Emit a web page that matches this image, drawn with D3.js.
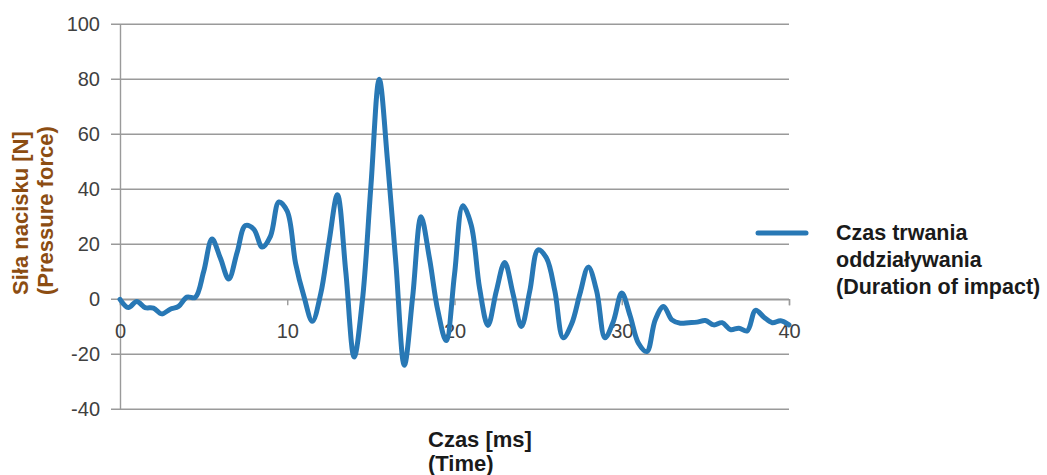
<!DOCTYPE html>
<html>
<head>
<meta charset="utf-8">
<script src="https://cdn.jsdelivr.net/npm/d3@7"></script>
<style>
  body { margin: 0; background: #fff; }
  text { font-family: "Liberation Sans", Arial, sans-serif; }
</style>
</head>
<body>
<div id="chart"></div>
<script>
// czas [ms] co 0.5 ms
var times = d3.range(0, 40.5, 0.5);
var forces = [
  0, -3, -0.8, -3, -3.2, -5.3, -3.6, -2.6, 0.8, 0.7,
  10, 21.9, 15, 7.4, 17, 26.8, 25.5, 19, 23, 35.4,
  32, 13, 1, -8, 2, 21, 38, 10, -21, 0,
  41, 80, 50, 12.7, -24, 1, 30, 15, -4, -15,
  9, 34, 27, 4, -9.5, 3, 13.4, 2, -9.9, 3,
  18, 15, 3, -14, -9, 2, 11.7, 3, -14, -8,
  2.3, -6, -16, -19, -7.5, -2.6, -7.5, -8.7, -8.5, -8.3,
  -7.7, -9.3, -8.5, -11, -10.5, -11.5, -4, -6.5, -8.5, -7.8,
  -9.3
];
var xTicks = [0, 10, 20, 30, 40];
var yTicks = [-40, -20, 0, 20, 40, 60, 80, 100];
var seriesName = ["Czas trwania", "oddziaływania", "(Duration of impact)"];
var xTitle = ["Czas [ms]", "(Time)"];
var yTitle = ["Siła nacisku [N]", "(Pressure force)"];

var w = 1047, h = 475;
var lineColor = "#2878b5";
var gridColor = "#9a9a9a";

var svg = d3.select("#chart").append("svg")
    .attr("width", w)
    .attr("height", h);

var x = d3.scaleLinear().domain([0, 40]).range([120, 789]);
var y = d3.scaleLinear().domain([-40, 100]).range([409.3, 24.3]);

// zwykly minus jak w Excelu
var plain = function(d){ return String(d); };

// siatka pozioma
svg.append("g")
    .selectAll("line")
    .data(yTicks)
    .enter()
    .append("line")
    .attr("x1", 111)
    .attr("x2", x(40))
    .attr("y1", function(d){ return y(d); })
    .attr("y2", function(d){ return y(d); })
    .attr("stroke", gridColor)
    .attr("stroke-width", 1.4);

// os Y
var yAxis = d3.axisLeft(y).tickValues(yTicks).tickFormat(plain).tickSize(0).tickPadding(20);
var gy = svg.append("g")
    .attr("transform", "translate(" + x(0) + ",0)")
    .call(yAxis);
gy.select(".domain").attr("stroke", gridColor).attr("stroke-width", 1.4);
gy.selectAll("text")
    .attr("font-size", 20)
    .attr("fill", "#404040")
    .attr("font-family", "Liberation Sans, Arial, sans-serif");

// os X na poziomie zera
var xAxis = d3.axisBottom(x).tickValues(xTicks).tickFormat(plain).tickSize(6);
var gx = svg.append("g")
    .attr("transform", "translate(0," + y(0) + ")")
    .call(xAxis);
gx.select(".domain").attr("stroke", gridColor).attr("stroke-width", 1.4);
gx.selectAll("line").attr("stroke", gridColor).attr("stroke-width", 1.4);
gx.selectAll("text")
    .attr("y", 32)
    .attr("dy", "0.35em")
    .attr("font-size", 20)
    .attr("fill", "#404040")
    .attr("font-family", "Liberation Sans, Arial, sans-serif");

// seria
var line = d3.line()
    .x(function(d, i){ return x(times[i]); })
    .y(function(d){ return y(d); })
    .curve(d3.curveCatmullRom.alpha(0.5));

svg.append("path")
    .datum(forces)
    .attr("d", line)
    .attr("fill", "none")
    .attr("stroke", lineColor)
    .attr("stroke-width", 5)
    .attr("stroke-linejoin", "round")
    .attr("stroke-linecap", "round");

// tytul osi X
svg.append("g")
    .selectAll("text")
    .data(xTitle)
    .enter()
    .append("text")
    .attr("x", 428)
    .attr("y", function(d, i){ return 447 + i * 24; })
    .attr("font-size", 22)
    .attr("font-weight", "bold")
    .attr("fill", "#1a1a1a")
    .text(function(d){ return d; });

// tytul osi Y
svg.append("g")
    .selectAll("text")
    .data(yTitle)
    .enter()
    .append("text")
    .attr("transform", function(d, i){
        return "translate(" + (28 + i * 25) + ",295) rotate(-90)";
    })
    .attr("font-size", 22)
    .attr("font-weight", "bold")
    .attr("fill", "#8c4d12")
    .text(function(d){ return d; });

// legenda
svg.append("line")
    .attr("x1", 758).attr("x2", 806)
    .attr("y1", 233).attr("y2", 233)
    .attr("stroke", lineColor)
    .attr("stroke-width", 5)
    .attr("stroke-linecap", "round");

svg.append("g")
    .selectAll("text")
    .data(seriesName)
    .enter()
    .append("text")
    .attr("x", 836)
    .attr("y", function(d, i){ return 240 + i * 27; })
    .attr("font-size", 21.5)
    .attr("font-weight", "bold")
    .attr("fill", "#1a1a1a")
    .text(function(d){ return d; });
</script>
</body>
</html>
